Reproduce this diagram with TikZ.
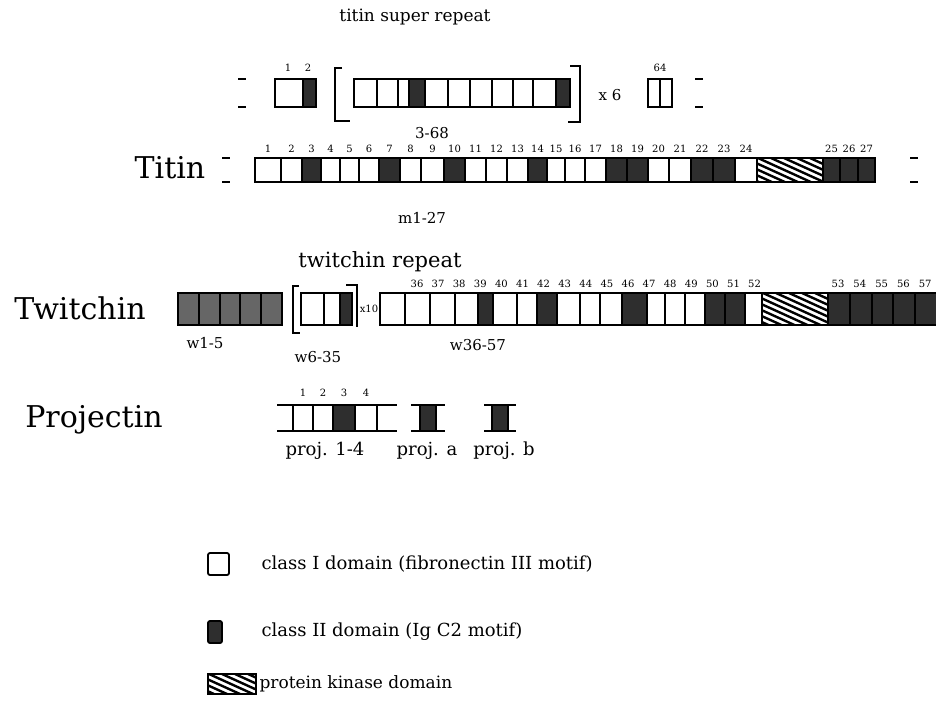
\documentclass[tikz,border=0pt]{standalone}
\usepackage{fontspec}
\setmainfont{DejaVu Serif}
\usetikzlibrary{positioning}

\tikzset{
  dom/.style={draw=black, line width=1.8pt},
  cls2/.style={dom, fill=black!82},
  dotcell/.style={dom, fill=black!60},
  hatch/.style={line width=2.4pt},
  term/.style={line width=2.2pt},
  brk/.style={line width=2pt},
  prot/.style={font=\fontsize{30}{34}\selectfont},
  txt/.style={font=\fontsize{18}{21}\selectfont},
  hand/.style={font=\fontsize{15}{17}\selectfont},
  num/.style={font=\fontsize{10}{11}\selectfont, inner sep=0pt},
}

% hatched kinase box: x1, y1, x2, y2
\newcommand{\kinbox}[4]{%
  \begin{scope}
    \clip (#1,#2) rectangle (#3,#4);
    \foreach \hx in {-90,-77,...,90}
      \draw[hatch] ({#1+\hx},#2) -- ++({2.2*(#4-#2)},{#4-#2});
  \end{scope}
  \draw[dom] (#1,#2) rectangle (#3,#4);}

\begin{document}
\begin{tikzpicture}[x=1pt, y=-1pt]
    \useasboundingbox (0,0) rectangle (936,705);

    % Rows (top and bottom of the domain strips)
    \def\srT{79}  \def\srB{107}
    \def\tiT{158} \def\tiB{182}
    \def\twT{293} \def\twB{325}
    \def\prT{405} \def\prB{431}

    % Titin super repeat
    \node[txt, font=\fontsize{17}{20}\selectfont] (srtitle) at (415,17) {titin super repeat};
    \draw[term] (238,\srT) -- ++(8,0);
    \draw[term] (238,\srB) -- ++(8,0);
    \draw[dom] (275,\srT) rectangle (303,\srB);
    \draw[cls2] (303,\srT) rectangle (316,\srB);
    \node[num] (sr1) at (288,\srT-11) {1};
    \node[num] (sr2) at (308,\srT-11) {2};
    \draw[brk] (342,\srT-11) -- (335,\srT-11) -- (335,\srB+14) -- (350,\srB+14);
    \foreach \a/\b in {354/377, 377/398, 398/409, 409/425, 425/448, 448/470,
                       470/492, 492/513, 513/533, 533/556, 556/570}
      \draw[dom] (\a,\srT) rectangle (\b,\srB);
    \draw[cls2] (409,\srT) rectangle (425,\srB);
    \draw[cls2] (556,\srT) rectangle (570,\srB);
    \draw[brk] (570,\srT-13) -- (580,\srT-13) -- (580,\srB+15) -- (568,\srB+15);
    \node[hand] (srtimes) at (610,{(\srT+\srB)/2+2}) {x 6};
    \node[num] (sr64) at (660,\srT-11) {64};
    \draw[dom] (648,\srT) rectangle (672,\srB);
    \draw[dom] (660,\srT) -- (660,\srB);
    \draw[term] (695,\srT) -- ++(8,0);
    \draw[term] (695,\srB) -- ++(8,0);
    \node[hand] (srrange) at (432,\srB+26) {3-68};

    % Titin
    \node[prot] (titin) at (170,168) {Titin};
    \draw[term] (222,\tiT) -- ++(8,0);
    \draw[term] (222,\tiB) -- ++(8,0);
    \foreach \a/\b [count=\i] in {255/281, 281/302, 302/321, 321/340, 340/359,
        359/379, 379/400, 400/421, 421/444, 444/465, 465/486, 486/507, 507/528,
        528/547, 547/565, 565/585, 585/606, 606/627, 627/648, 648/669, 669/691,
        691/713, 713/735, 735/757} {
      \draw[dom] (\a,\tiT) rectangle (\b,\tiB);
      \node[num] (ti\i) at ({(\a+\b)/2},\tiT-9) {\i};
    }
    \foreach \a/\b in {302/321, 379/400, 444/465, 528/547, 606/627, 627/648,
                       691/713, 713/735}
      \draw[cls2] (\a,\tiT) rectangle (\b,\tiB);
    \kinbox{757}{\tiT}{823}{\tiB}
    \foreach \a/\b [count=\i from 25] in {823/840, 840/858, 858/875} {
      \draw[cls2] (\a,\tiT) rectangle (\b,\tiB);
      \node[num] (ti\i) at ({(\a+\b)/2},\tiT-9) {\i};
    }
    \draw[term] (910,\tiT) -- ++(8,0);
    \draw[term] (910,\tiB) -- ++(8,0);
    \node[hand] (tirange) at (422,\tiB+36) {m1-27};

    % Twitchin
    \node[txt, font=\fontsize{21}{24}\selectfont] (twtitle) at (380,262) {twitchin repeat};
    \node[prot] (twitchin) at (80,308) {Twitchin};
    \foreach \a/\b in {178/199, 199/220, 220/240, 240/261, 261/282}
      \draw[dotcell] (\a,\twT) rectangle (\b,\twB);
    \node[hand] (tw15) at (205,\twB+18) {w1-5};
    \draw[brk] (299,\twT-7) -- (293,\twT-7) -- (293,\twB+8) -- (300,\twB+8);
    \draw[dom] (301,\twT) rectangle (324,\twB);
    \draw[dom] (324,\twT) rectangle (340,\twB);
    \draw[cls2] (340,\twT) rectangle (352,\twB);
    \draw[brk] (346,\twT-8) -- (357,\twT-8) -- (357,\twB+2);
    \node[num] (twtimes) at (369,{(\twT+\twB)/2}) {x10};
    \foreach \a/\b in {380/405, 405/430, 430/455, 455/478, 478/493, 493/517,
                       517/537, 537/557, 557/580, 580/600, 600/622, 622/647,
                       647/665, 665/685, 685/705, 705/725, 725/745, 745/762}
      \draw[dom] (\a,\twT) rectangle (\b,\twB);
    \foreach \a/\b in {478/493, 537/557, 622/647, 705/725, 725/745}
      \draw[cls2] (\a,\twT) rectangle (\b,\twB);
    \kinbox{762}{\twT}{828}{\twB}
    \foreach \a/\b in {828/850, 850/872, 872/893, 893/915, 915/940}
      \draw[cls2] (\a,\twT) rectangle (\b,\twB);
    \foreach \n [count=\i from 0] in {36,...,52}
      \node[num] (tw\n) at ({417+21.1*\i},\twT-9) {\n};
    \foreach \n [count=\i from 0] in {53,...,57}
      \node[num] (tw\n) at ({838+21.8*\i},\twT-9) {\n};
    \node[hand] (tw635) at (318,\twB+32) {w6-35};
    \node[hand] (tw3657) at (478,\twB+20) {w36-57};

    % Projectin
    \node[prot] (projectin) at (94,420) {Projectin};
    \draw[dom] (277,\prT) -- (397,\prT);
    \draw[dom] (277,\prB) -- (397,\prB);
    \foreach \x in {293,313,333,377}
      \draw[dom] (\x,\prT) -- (\x,\prB);
    \draw[cls2] (333,\prT) rectangle (355,\prB);
    \foreach \x [count=\i] in {303,323,344,366}
      \node[num] (pr\i) at (\x,\prT-12) {\i};
    \draw[dom] (411,\prT) -- (445,\prT);
    \draw[dom] (411,\prB) -- (445,\prB);
    \draw[cls2] (420,\prT) rectangle (436,\prB);
    \draw[dom] (484,\prT) -- (516,\prT);
    \draw[dom] (484,\prB) -- (516,\prB);
    \draw[cls2] (492,\prT) rectangle (508,\prB);
    \node[txt] (prlab14) at (325,\prB+20) {proj. 1-4};
    \node[txt] (prlaba) at (427,\prB+20) {proj. a};
    \node[txt] (prlabb) at (504,\prB+20) {proj. b};

    % Legend
    \draw[dom, rounded corners=2pt] (208,553) rectangle (229,575);
    \node[txt, anchor=west] (leg1) at (258,564) {class I domain (fibronectin III motif)};
    \draw[cls2, rounded corners=2pt] (208,621) rectangle (222,643);
    \node[txt, anchor=west] (leg2) at (258,632) {class II domain (Ig C2 motif)};
    \kinbox{208}{674}{256}{694}
    \node[txt, anchor=west, font=\fontsize{17}{20}\selectfont] (leg3) at (256,684) {protein kinase domain};

\end{tikzpicture}
\end{document}
